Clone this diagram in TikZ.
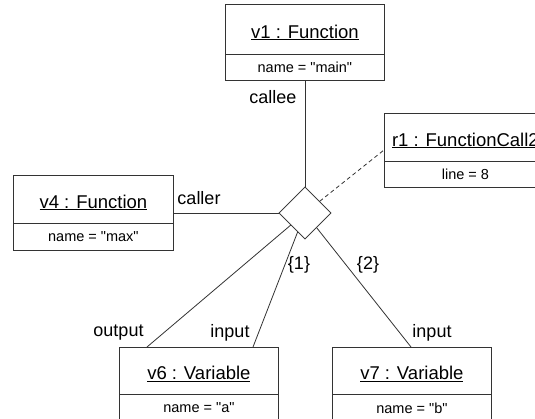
\documentclass[tikz,border=0pt]{standalone}
\usepackage{fontspec}
\newfontfamily\lib{Liberation Sans}
\usetikzlibrary{shapes.geometric}
\begin{document}
\begin{tikzpicture}[x=1pt,y=-1pt,
  ln/.style={draw=black!80,line width=0.8pt},
  boxpart/.style={ln,rectangle,inner sep=0pt,anchor=north west},
  ttl/.style={font=\lib\fontsize{18.5}{20}\selectfont,yshift=-3pt},
  attr/.style={font=\lib\fontsize{14.5}{16}\selectfont},
  lbl/.style={font=\lib\fontsize{18}{20}\selectfont,inner sep=0pt},
  dia/.style={ln,diamond,inner sep=0pt,minimum width=52pt,minimum height=52pt,fill=white}]
\useasboundingbox (0,0) rectangle (535,419);
\clip (0,0) rectangle (535,419);
% v1
\node[boxpart,minimum width=159pt,minimum height=50pt] (v1) at (225,4) {};
\node[boxpart,minimum width=159pt,minimum height=26pt] (v1a) at (225,54) {};
\node[ttl] at (v1.center) {\underline{v1 : Function}};
\node[attr] at (v1a.center) {name = "main"};
% r1
\node[boxpart,minimum width=162pt,minimum height=48pt] (r1) at (384,113) {};
\node[boxpart,minimum width=162pt,minimum height=26pt] (r1a) at (384,161) {};
\node[ttl] at (r1.center) {\underline{r1 : FunctionCall2}};
\node[attr] at (r1a.center) {line = 8};
% v4
\node[boxpart,minimum width=160pt,minimum height=48pt] (v4) at (13,175) {};
\node[boxpart,minimum width=160pt,minimum height=27pt] (v4a) at (13,223) {};
\node[ttl] at (v4.center) {\underline{v4 : Function}};
\node[attr] at (v4a.center) {name = "max"};
% v6
\node[boxpart,minimum width=159pt,minimum height=47pt] (v6) at (119,347) {};
\node[boxpart,minimum width=159pt,minimum height=27pt] (v6a) at (119,394) {};
\node[ttl] at (v6.center) {\underline{v6 : Variable}};
\node[attr] at (v6a.center) {name = "a"};
% v7
\node[boxpart,minimum width=159pt,minimum height=47pt] (v7) at (332,347) {};
\node[boxpart,minimum width=159pt,minimum height=27pt] (v7a) at (332,394) {};
\node[ttl] at (v7.center) {\underline{v7 : Variable}};
\node[attr] at (v7a.center) {name = "b"};
% diamond
\node[dia] (d) at (305,213) {};
% anchor points on boxes
\coordinate (v6o) at (147,347);
\coordinate (v6i) at (253,347);
\coordinate (v7i) at (411,347);
\coordinate (r1w) at (384,150);
% connectors
\draw[ln] (v1a.south -| d.north) -- (d.north);
\draw[ln] (d.west -| v4.east) -- (d.west);
\draw[ln,dash pattern=on 4pt off 3pt] (d) -- (r1w);
\draw[ln] (d) -- (v6o);
\draw[ln] (d) -- (v6i);
\draw[ln] (d) -- (v7i);
\node[dia] at (d.center) {};
% labels
\node[lbl] (lcallee) at (273,97) {callee};
\node[lbl] (lcaller) at (199,198) {caller};
\node[lbl] (l1) at (299,265) {\{1\}};
\node[lbl] (l2) at (368,265) {\{2\}};
\node[lbl] (lout) at (118.5,333) {output};
\node[lbl] (lin1) at (230,333) {input};
\node[lbl] (lin2) at (432,333) {input};
\end{tikzpicture}
\end{document}
